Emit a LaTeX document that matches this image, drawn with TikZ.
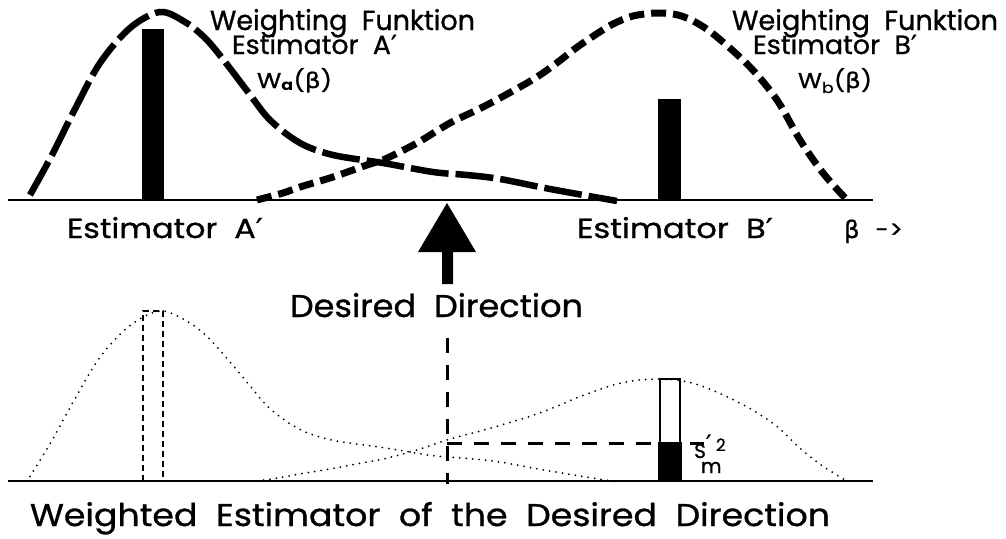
\documentclass[tikz,border=0pt]{standalone}
\usepackage{fontspec}
\setmainfont{Poppins}[UprightFeatures={FakeBold=0.9}]
\newfontfamily\grk{DejaVu Sans}[FakeBold=0.9]
\newcommand\fitw[3]{\resizebox{#1}{#2}{#3}}
\begin{document}
\begin{tikzpicture}[x=1pt,y=-1pt,
  axisline/.style={line width=2.6pt},
  wA/.style={line width=6.5pt, dash pattern=on 38pt off 7pt},
  wB/.style={line width=7pt, dash pattern=on 15pt off 7pt},
  dotc/.style={line width=2pt, line cap=round, dash pattern=on 0pt off 6.5pt},
  thindash/.style={line width=1.1pt, dash pattern=on 6pt off 4pt},
  thickdash/.style={line width=3pt, dash pattern=on 15pt off 12pt},
  lab/.style={anchor=base, inner sep=0pt, font=\fontsize{30pt}{36pt}\selectfont}]
\useasboundingbox (0,0) rectangle (1006,538);
\def\pathA{plot[smooth,tension=0.55] coordinates {(30,-5) (52,-45) (75,-91) (100,-137) (130,-172) (160,-188) (185,-178) (205,-162) (222,-142) (248,-108) (270,-80) (300,-57) (333,-45) (383,-37) (433,-28) (467,-25) (500,-21) (550,-11) (617,1)}}
\def\pathB{plot[smooth,tension=0.55] coordinates {(257,0) (283,-7) (300,-13) (333,-23) (367,-35) (383,-40) (417,-57) (450,-77) (483,-93) (520,-113) (540,-125) (558,-138) (576,-152) (595,-165) (613,-176) (633,-184) (657,-187) (678,-185) (697,-177) (717,-163) (750,-133) (777,-100) (800,-60) (823,-27) (847,0)}}
% ---- top panel
\draw[axisline] (8,200) -- (873,200);
\fill (142,29) rectangle (164,200);
\fill (658,99) rectangle (681,200);
\begin{scope}[shift={(0,200)}]
  \draw[wA] \pathA;
  \draw[wB] \pathB;
\end{scope}
\node[lab] (wa1) at (342.5,30) {\fitw{265pt}{21pt}{Weighting\ \ Funktion}};
\node[lab] (wa2) at (314.5,54) {\fitw{165pt}{20pt}{Estimator\ \ A{\grk ′}}};
\node[lab] (wa3) at (294.5,88) {\fitw{75pt}{20pt}{W\textsubscript{\textbf{a}}({\grk β})}};
\node[lab] (wb1) at (865,30) {\fitw{266pt}{21pt}{Weighting\ \ Funktion}};
\node[lab] (wb2) at (835,54) {\fitw{164pt}{20pt}{Estimator\ \ B{\grk ′}}};
\node[lab] (wb3) at (835,88) {\fitw{74pt}{20pt}{W\textsubscript{b}({\grk β})}};
\node[lab] (ea) at (165,238) {\fitw{196pt}{21pt}{Estimator\ \ A{\grk ′}}};
\node[lab] (eb) at (675,238) {\fitw{196pt}{21pt}{Estimator\ \ B{\grk ′}}};
\node[anchor=base west, inner sep=0pt, font=\fontsize{24pt}{28pt}\selectfont] (beta) at (844,238) {{\grk β}\hspace{16pt}-\kern1pt>};
% ---- arrow
\fill (447,203) -- (476,252) -- (453,252) -- (453,284) -- (442,284) -- (442,252) -- (418,252) -- cycle;
\node[lab] (dd) at (436.5,317) {\fitw{293pt}{24pt}{Desired\ \ Direction}};
% ---- bottom panel
\draw[axisline] (8,481) -- (873,481);
\begin{scope}[shift={(0,481)}, yscale=0.904]
  \draw[dotc] \pathA;
\end{scope}
\begin{scope}[shift={(0,481)}, yscale=0.545]
  \draw[dotc] \pathB;
\end{scope}
\draw[thindash] (143,481) -- (143,311) -- (163,311) -- (163,481);
\draw[line width=1.1pt] (660,481) -- (660,379) -- (680,379) -- (680,481);
\fill (658,442) rectangle (682,481);
\coordinate (vtop) at (447,338);
\coordinate (vbot) at (447,484);
\coordinate (hend) at (704,443);
\draw[thickdash] (vtop) -- (vbot);
\draw[thickdash] (447,443) -- (hend);
\node[anchor=base west, inner sep=0pt, font=\fontsize{20pt}{20pt}\selectfont] (sm) at (694,458)
  {S\rlap{\kern-5pt\raisebox{-15pt}{m}}\rlap{\kern0pt\raisebox{6pt}{\fontsize{24pt}{24pt}\selectfont\grk ′}}\kern10pt\raisebox{7pt}{\fontsize{17pt}{17pt}\selectfont 2}};
\node[lab] (we) at (430,526) {\fitw{800pt}{24pt}{Weighted\ \ Estimator\ \ of\ \ the\ \ Desired\ \ Direction}};
\end{tikzpicture}
\end{document}
